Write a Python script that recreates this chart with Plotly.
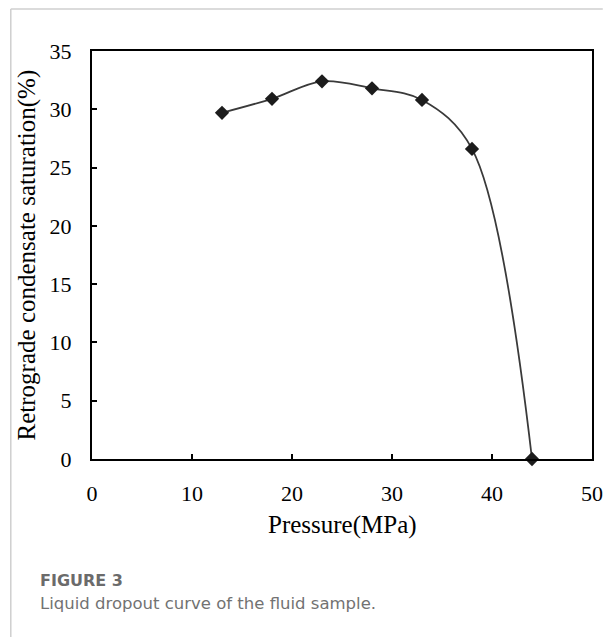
import plotly.graph_objects as go

pressure = [13, 18, 23, 28, 33, 38, 44]
saturation = [29.7, 30.9, 32.4, 31.8, 30.8, 26.6, 0.0]
x_ticks = [0, 10, 20, 30, 40, 50]
y_ticks = [0, 5, 10, 15, 20, 25, 30, 35]

SERIF = "Liberation Serif, Times New Roman, serif"

fig = go.Figure()
fig.add_trace(go.Scatter(
    x=pressure, y=saturation, mode="lines+markers",
    line=dict(color="#3a3a3a", width=1.8, shape="spline", smoothing=1.0),
    marker=dict(symbol="diamond", size=11, color="#1c1c1c"),
    showlegend=False, cliponaxis=False,
))

axis_common = dict(
    showline=True, linecolor="black", linewidth=2, mirror=True,
    ticks="inside", ticklen=5, tickwidth=1.5, tickcolor="black",
    showgrid=False, zeroline=False,
    tickfont=dict(family=SERIF, size=22, color="black"),
)
fig.update_xaxes(range=[0, 50], tickvals=x_ticks, ticklabelstandoff=14, **axis_common)
fig.update_yaxes(range=[0, 35], tickvals=y_ticks, ticklabelstandoff=14, **axis_common)

# page has an 8px body margin: figure spans page x 8..614, y 8..637
W, H = 606, 629
L, R, T, B = 84, 11, 43, 178
pw, ph = W - L - R, H - T - B

def px(xp):  # page x -> paper x
    return (xp - 8 - L) / pw

def py(yp):  # page y -> paper y
    return (H - B - (yp - 8)) / ph

border = dict(color="#cfcfcf", width=1.5)

fig.update_layout(
    width=W, height=H,
    margin=dict(l=L, r=R, t=T, b=B),
    plot_bgcolor="white", paper_bgcolor="white",
    annotations=[
        dict(text="Pressure(MPa)", xref="paper", yref="paper", x=0.5, y=py(525),
             xanchor="center", yanchor="middle", showarrow=False,
             font=dict(family=SERIF, size=25, color="black")),
        dict(text="Retrograde condensate saturation(%)", xref="paper", yref="paper",
             x=px(26), y=0.5, xanchor="center", yanchor="middle", showarrow=False,
             textangle=-90, font=dict(family=SERIF, size=25, color="black")),
        dict(text="FIGURE 3", xref="paper", yref="paper", x=px(37), y=py(580),
             xanchor="left", yanchor="middle", showarrow=False,
             font=dict(family="DejaVu Sans", size=16, color="#6b6b6b", weight=600)),
        dict(text="Liquid dropout curve of the fluid sample.", xref="paper", yref="paper",
             x=px(37), y=py(603), xanchor="left", yanchor="middle", showarrow=False,
             font=dict(family="DejaVu Sans", size=16.5, color="#727272")),
    ],
    shapes=[
        dict(type="line", xref="paper", yref="paper", x0=px(9), y0=py(9), x1=px(614), y1=py(9),
             line=border),
        dict(type="line", xref="paper", yref="paper", x0=px(9), y0=py(9), x1=px(9), y1=py(637),
             line=border),
    ],
)

fig.write_html("out.html")
